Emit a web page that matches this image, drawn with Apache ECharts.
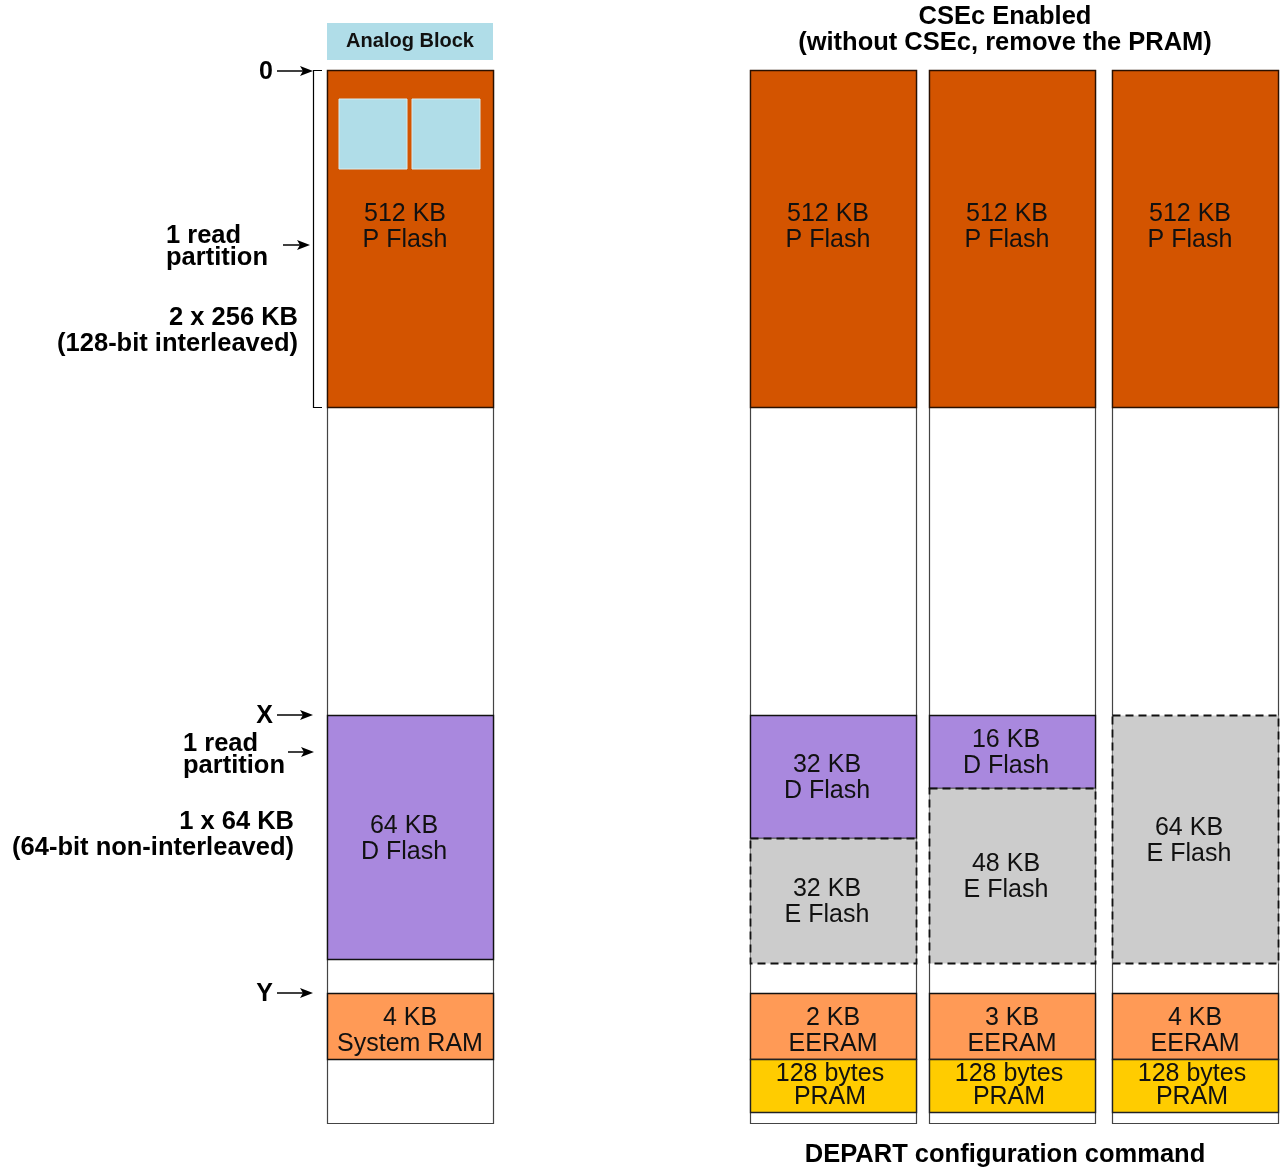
<!DOCTYPE html>
<html>
<head>
<meta charset="utf-8">
<script src="https://cdn.jsdelivr.net/npm/echarts@6/dist/echarts.min.js"></script>
<style>
  html, body { margin: 0; padding: 0; background: #fff; }
  #main { width: 1283px; height: 1170px; }
</style>
</head>
<body>
<div id="main"></div>
<script>
// columns of the memory map (x range in diagram units)
var colNames = ['Default', 'DEPART A', 'DEPART B', 'DEPART C'];
var colLeft = [327, 750, 929, 1112];
var colRight = [493, 916, 1095, 1278];
var colTop = 70, colBottom = 1123;

// memory blocks
var blockLabel = [
    '512 KB\nP Flash', '64 KB\nD Flash', '4 KB\nSystem RAM',
    '512 KB\nP Flash', '32 KB\nD Flash', '32 KB\nE Flash', '2 KB\nEERAM', '128 bytes\nPRAM',
    '512 KB\nP Flash', '16 KB\nD Flash', '48 KB\nE Flash', '3 KB\nEERAM', '128 bytes\nPRAM',
    '512 KB\nP Flash', '64 KB\nE Flash', '4 KB\nEERAM', '128 bytes\nPRAM'
];
var blockCol = [0, 0, 0, 1, 1, 1, 1, 1, 2, 2, 2, 2, 2, 3, 3, 3, 3];
var blockTop = [70, 715, 993, 70, 715, 838, 993, 1059, 70, 715, 788, 993, 1059, 70, 715, 993, 1059];
var blockBottom = [407, 959, 1059, 407, 838, 963, 1059, 1112, 407, 788, 963, 1059, 1112, 407, 963, 1059, 1112];
var blockKind = ['pflash', 'dflash', 'ram', 'pflash', 'dflash', 'eflash', 'ram', 'pram',
    'pflash', 'dflash', 'eflash', 'ram', 'pram', 'pflash', 'eflash', 'ram', 'pram'];

// analog block cells inside P Flash
var analogLeft = [339, 412];
var analogRight = [407, 480];
var analogTop = 99, analogBottom = 169;

// address markers on the left
var markerText = ['0', 'X', 'Y'];
var markerY = [71, 715, 993];

// annotation notes
var noteText = ['1 read\npartition', '2 x 256 KB\n(128-bit interleaved)', '1 read\npartition', '1 x 64 KB\n(64-bit non-interleaved)'];
var noteX = [166, 298, 183, 294];
var noteY = [247, 331, 755, 835];
var noteAlign = ['left', 'right', 'left', 'right'];
var noteLineHeight = [22, 26, 22, 26];
var noteArrowFrom = [283, null, 288, null];
var noteArrowTo = [310, null, 314, null];
var noteArrowY = [245, null, 752, null];

var kindStyle = {
    pflash: { fill: '#D35400', stroke: '#2a1000', dash: null, dx: -5, dy: 2 },
    dflash: { fill: '#A988DE', stroke: '#111', dash: null, dx: -6, dy: 2 },
    eflash: { fill: '#CCCCCC', stroke: '#111', dash: [8, 5], dx: -6, dy: 2 },
    ram: { fill: '#FF9A56', stroke: '#111', dash: null, dx: 0, dy: 5 },
    pram: { fill: '#FFCC00', stroke: '#222', dash: null, dx: -3, dy: 0 }
};

var FONT = '"Liberation Sans", Arial, Helvetica, sans-serif';
var chart = echarts.init(document.getElementById('main'));

function arrow(api, x1, x2, y) {
    var p1 = api.coord([x1, y]), p2 = api.coord([x2, y]);
    return {
        type: 'group',
        children: [
            { type: 'line', shape: { x1: p1[0], y1: p1[1], x2: p2[0] - 8, y2: p2[1] }, style: { stroke: '#000', lineWidth: 1.5 } },
            { type: 'polygon', shape: { points: [[p2[0], p2[1]], [p2[0] - 13, p2[1] - 5], [p2[0] - 10, p2[1]], [p2[0] - 13, p2[1] + 5]] }, style: { fill: '#000' } }
        ]
    };
}

var columnData = colNames.map(function (n, i) { return [colLeft[i], colRight[i], colTop, colBottom, n]; });
var blockData = blockLabel.map(function (l, i) {
    return [colLeft[blockCol[i]], colRight[blockCol[i]], blockTop[i], blockBottom[i], l, blockKind[i]];
});
var analogData = analogLeft.map(function (l, i) { return [l, analogRight[i], analogTop, analogBottom]; });

var option = {
    animation: false,
    grid: { left: 0, right: 0, top: 0, bottom: 0 },
    xAxis: { type: 'value', min: 0, max: 1283, show: false },
    yAxis: { type: 'value', min: 0, max: 1170, inverse: true, show: false },
    series: [
        {
            // column outlines
            type: 'custom',
            data: columnData,
            renderItem: function (params, api) {
                var a = api.coord([api.value(0), api.value(2)]);
                var b = api.coord([api.value(1), api.value(3)]);
                return {
                    type: 'rect',
                    shape: { x: a[0] + 0.5, y: a[1] + 0.5, width: b[0] - a[0], height: b[1] - a[1] },
                    style: { fill: '#fff', stroke: '#444', lineWidth: 1.2 }
                };
            }
        },
        {
            // memory blocks
            type: 'custom',
            data: blockData,
            renderItem: function (params, api) {
                var d = blockData[params.dataIndex];
                var st = kindStyle[d[5]];
                var a = api.coord([d[0], d[2]]);
                var b = api.coord([d[1], d[3]]);
                var cy = d[5] === 'pflash' ? a[1] + (b[1] - a[1]) * 0.46 : (a[1] + b[1]) / 2;
                var pram = d[5] === 'pram';
                return {
                    type: 'group',
                    children: [
                        {
                            type: 'rect',
                            shape: { x: a[0] + 0.5, y: a[1] + 0.5, width: b[0] - a[0], height: b[1] - a[1] },
                            style: { fill: st.fill, stroke: st.stroke, lineWidth: st.dash ? 1.8 : 1.4, lineDash: st.dash }
                        },
                        {
                            type: 'text',
                            x: (a[0] + b[0]) / 2 + st.dx, y: cy + st.dy,
                            style: {
                                text: d[4], fill: '#111', font: '25px ' + FONT,
                                lineHeight: pram ? 23 : 26, align: 'center', verticalAlign: 'middle'
                            }
                        }
                    ]
                };
            }
        },
        {
            // analog block cells
            type: 'custom',
            data: analogData,
            renderItem: function (params, api) {
                var a = api.coord([api.value(0), api.value(2)]);
                var b = api.coord([api.value(1), api.value(3)]);
                return {
                    type: 'rect',
                    shape: { x: a[0], y: a[1], width: b[0] - a[0], height: b[1] - a[1] },
                    style: { fill: '#B0DDE8', stroke: '#d6ecf1', lineWidth: 1 }
                };
            }
        },
        {
            // headings, markers, notes, bracket
            type: 'custom',
            data: [0],
            renderItem: function (params, api) {
                var kids = [];
                var ab1 = api.coord([327, 23]), ab2 = api.coord([493, 60]);
                kids.push({ type: 'rect', shape: { x: ab1[0], y: ab1[1], width: ab2[0] - ab1[0], height: ab2[1] - ab1[1] }, style: { fill: '#B0DDE8' } });
                kids.push({ type: 'text', x: (ab1[0] + ab2[0]) / 2, y: (ab1[1] + ab2[1]) / 2, style: { text: 'Analog Block', font: 'bold 20px ' + FONT, fill: '#111', align: 'center', verticalAlign: 'middle' } });

                var t = api.coord([1005, 30]);
                kids.push({ type: 'text', x: t[0], y: t[1], style: { text: 'CSEc Enabled\n(without CSEc, remove the PRAM)', font: 'bold 25.5px ' + FONT, lineHeight: 26, fill: '#000', align: 'center', verticalAlign: 'middle' } });
                var bt = api.coord([1005, 1155]);
                kids.push({ type: 'text', x: bt[0], y: bt[1], style: { text: 'DEPART configuration command', font: 'bold 25.5px ' + FONT, fill: '#000', align: 'center', verticalAlign: 'middle' } });

                markerText.forEach(function (m, i) {
                    var p = api.coord([273, markerY[i]]);
                    kids.push({ type: 'text', x: p[0], y: p[1] + 1, style: { text: m, font: 'bold 25px ' + FONT, fill: '#000', align: 'right', verticalAlign: 'middle' } });
                    kids.push(arrow(api, 277, 313, markerY[i]));
                });

                noteText.forEach(function (n, i) {
                    var p = api.coord([noteX[i], noteY[i]]);
                    kids.push({ type: 'text', x: p[0], y: p[1], style: { text: n, font: 'bold 25.5px ' + FONT, lineHeight: noteLineHeight[i], fill: '#000', align: noteAlign[i], verticalAlign: 'middle' } });
                    if (noteArrowFrom[i] !== null) kids.push(arrow(api, noteArrowFrom[i], noteArrowTo[i], noteArrowY[i]));
                });

                var b1 = api.coord([313, 70]), b2 = api.coord([322, 407]);
                kids.push({ type: 'polyline', shape: { points: [[b2[0], b1[1] + 0.5], [b1[0] + 0.5, b1[1] + 0.5], [b1[0] + 0.5, b2[1] + 0.5], [b2[0], b2[1] + 0.5]] }, style: { fill: null, stroke: '#000', lineWidth: 1.2 } });
                return { type: 'group', children: kids };
            }
        }
    ]
};
chart.setOption(option);
</script>
</body>
</html>
